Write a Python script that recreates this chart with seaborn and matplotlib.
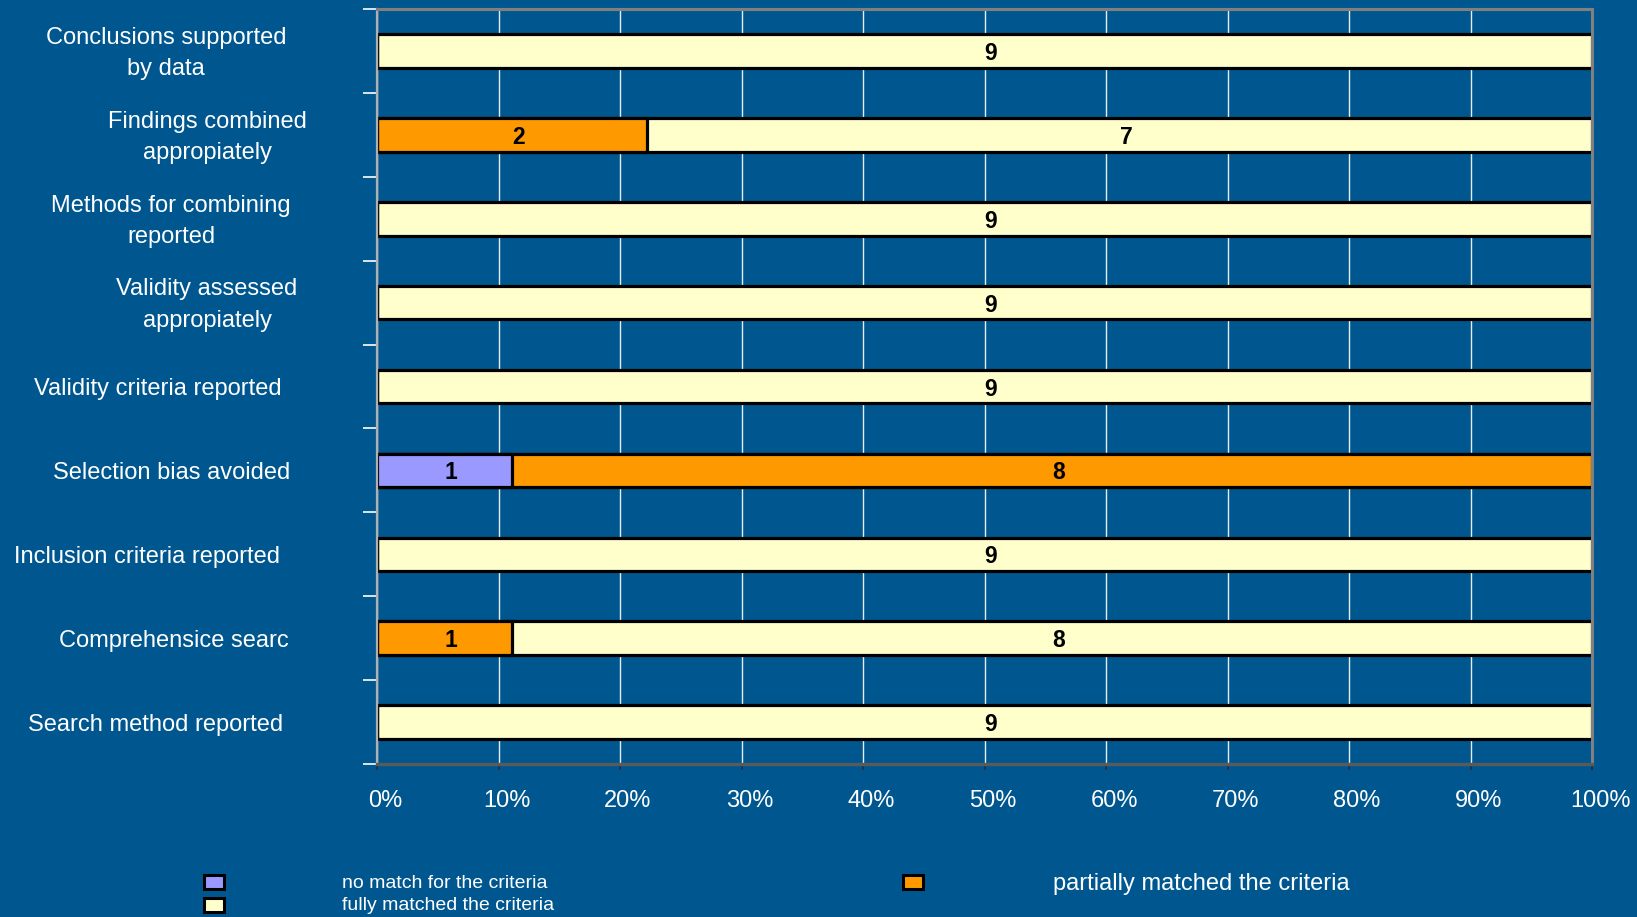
import matplotlib
matplotlib.use("Agg")
import matplotlib.pyplot as plt
import matplotlib.transforms as mtransforms
from matplotlib.patches import Rectangle
from matplotlib import font_manager
import numpy as np
import pandas as pd
import seaborn as sns

# ---- data -------------------------------------------------------------
criteria = [
    "Conclusions supported\nby data",
    "Findings combined\nappropiately",
    "Methods for combining\nreported",
    "Validity assessed\nappropiately",
    "Validity criteria reported",
    "Selection bias avoided",
    "Inclusion criteria reported",
    "Comprehensice searc",
    "Search method reported",
]
no_match = [0, 0, 0, 0, 0, 1, 0, 0, 0]
partial_match = [0, 2, 0, 0, 0, 8, 0, 1, 0]
full_match = [9, 7, 9, 9, 9, 0, 9, 8, 9]
series_names = ["no match for the criteria", "partially matched the criteria",
                "fully matched the criteria"]
x_ticks = [0, 10, 20, 30, 40, 50, 60, 70, 80, 90, 100]

# ---- style ------------------------------------------------------------
BG = "#00578F"
COLORS = {"no": "#9999FF", "partial": "#FF9900", "full": "#FFFFCC"}
sns.set_theme(style="white")
plt.rcParams["font.family"] = ["Liberation Sans", "DejaVu Sans"]

W, H = 1637, 917
fig = plt.figure(figsize=(W / 100, H / 100), dpi=100, facecolor=BG)
ax = fig.add_axes([377 / W, 1 - 764 / H, (1592 - 377) / W, (764 - 9) / H])
ax.set_facecolor(BG)

counts = np.array([no_match, partial_match, full_match], dtype=float)
totals = counts.sum(axis=0)
pct = counts / totals * 100
cum = np.cumsum(pct, axis=0)

df = pd.DataFrame({
    "criterion": criteria,
    "no": cum[0],
    "partial": cum[1],
    "full": cum[2],
})

# stacked bars: draw cumulative totals from the widest layer down
for key in ["full", "partial", "no"]:
    sns.barplot(data=df, x=key, y="criterion", orient="y", color=COLORS[key],
                saturation=1, width=0.4, edgecolor="black", linewidth=2.3,
                ax=ax, zorder=3)


def shifted(transform, dx_px, dy_px):
    return transform + mtransforms.ScaledTranslation(dx_px / 100, dy_px / 100,
                                                     fig.dpi_scale_trans)


# segment value labels
for i in range(len(criteria)):
    left = 0.0
    for j in range(3):
        v = counts[j, i]
        w = pct[j, i]
        if v > 0:
            ax.text(left + w / 2, i, f"{int(v)}", ha="center", va="center",
                    fontsize=16.5, fontweight="bold", color="black", zorder=5,
                    transform=shifted(ax.transData, 6.5, -2.5))
        left += w

ax.set_xlim(0, 100)
ax.set_ylim(len(criteria) - 0.5, -0.5)
ax.set_xlabel("")
ax.set_ylabel("")

# gridlines
ax.set_xticks(x_ticks)
ax.set_xticklabels([f"{t}%" for t in x_ticks], color="white", fontsize=17)
ax.xaxis.grid(True, color="white", linewidth=1.0, alpha=0.9, zorder=0)
ax.yaxis.grid(False)
ax.set_axisbelow(True)
ax.tick_params(axis="x", direction="out", length=4, width=1.2, color="#203040",
               pad=15, bottom=True)
for lab in ax.get_xticklabels():
    lab.set_transform(shifted(lab.get_transform(), 8, 0))

# category boundary ticks on the left
ax.set_yticks(np.arange(-0.5, len(criteria), 1.0))
ax.set_yticklabels([])
ax.tick_params(axis="y", direction="out", length=10, width=1.2, color="white",
               left=True)

# spines
for s in ["top", "right"]:
    ax.spines[s].set_color("#808080")
    ax.spines[s].set_linewidth(2.2)
ax.spines["left"].set_color("#B0B0B0")
ax.spines["left"].set_linewidth(1.6)
ax.spines["bottom"].set_color("#5A5A5A")
ax.spines["bottom"].set_linewidth(2.4)
for s in ax.spines.values():
    s.set_visible(True)
    s.set_zorder(4)

# category labels, centred in the label column
label_x = [166, 207, 171, 207, 158, 172, 147, 174, 156]
trans = mtransforms.blended_transform_factory(fig.transFigure, ax.transData)
for i, (name, xc) in enumerate(zip(criteria, label_x)):
    ax.text(xc / W, i, name, transform=shifted(trans, 0, -2.5), ha="center",
            va="center", multialignment="center", color="white", fontsize=17,
            linespacing=1.55, clip_on=False)

# legend
available = {f.name for f in font_manager.fontManager.ttflist}
narrow = "Liberation Sans Narrow" if "Liberation Sans Narrow" in available else None

legend_items = [
    (series_names[0], COLORS["no"], 214, 882, 342, 883, True),
    (series_names[2], COLORS["full"], 214, 905, 342, 906, True),
    (series_names[1], COLORS["partial"], 913, 882, 1053, 884, False),
]
for text, col, bx, by, tx, ty, condensed in legend_items:
    fig.patches.append(Rectangle(((bx - 10) / W, 1 - (by + 7) / H), 20 / W, 14 / H,
                                 transform=fig.transFigure, facecolor=col,
                                 edgecolor="black", linewidth=2.2))
    if condensed and narrow:
        kw = dict(family=[narrow, "Liberation Sans"], fontsize=17)
    elif condensed:
        kw = dict(fontsize=14)
    else:
        kw = dict(fontsize=17)
    fig.text(tx / W, 1 - ty / H, text, ha="left", va="center", color="white", **kw)

fig.savefig("out.png", dpi=100, facecolor=BG)
